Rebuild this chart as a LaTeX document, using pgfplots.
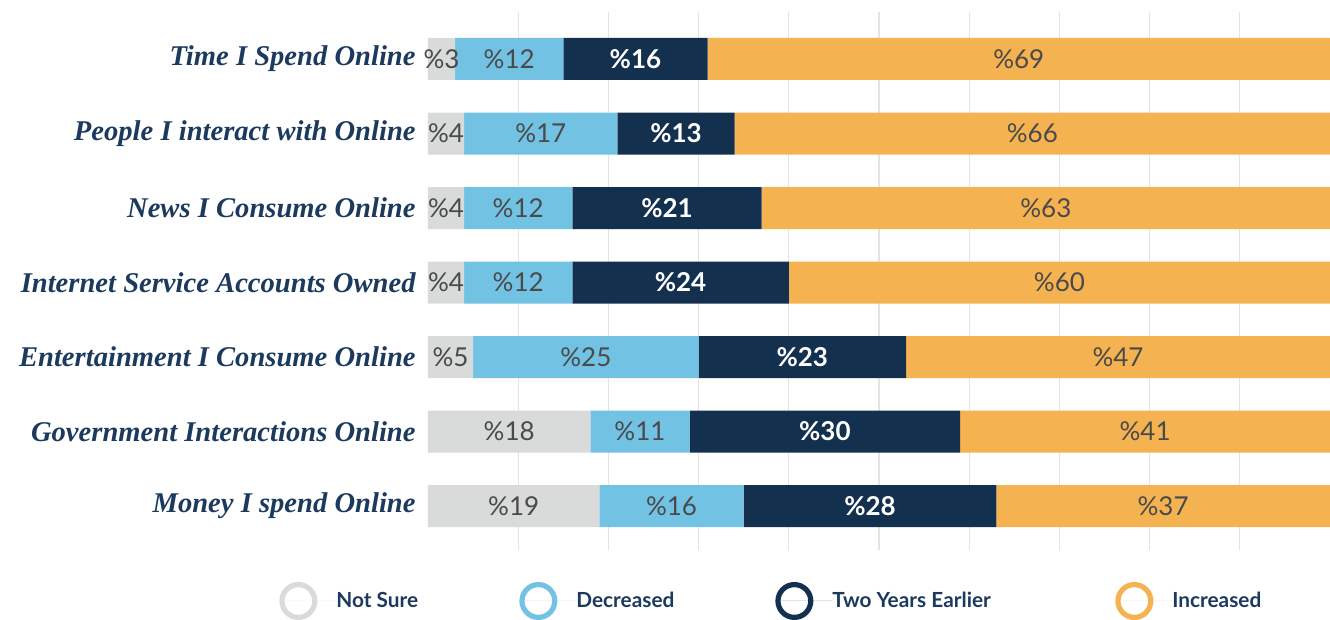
\documentclass[border=0pt]{standalone}
\usepackage{fontspec}
\setmainfont{Lato}
\newfontfamily\catfont{Liberation Serif}
\usepackage{pgfplots}
\usepackage{pgfplotstable}
\pgfplotsset{compat=1.18}
\definecolor{cGray}{HTML}{D9DADA}
\definecolor{cBlue}{HTML}{72C2E4}
\definecolor{cNavy}{HTML}{13304F}
\definecolor{cOrange}{HTML}{F4B350}
\definecolor{cText}{HTML}{4A4A4A}
\definecolor{cLabel}{HTML}{1C3A5E}
\definecolor{cGrid}{HTML}{E4E4E4}
\pgfplotstableread{
y ns dec two inc
0 19 16 28 37
1 18 11 30 41
2 5 25 23 47
3 4 12 24 60
4 4 12 21 63
5 4 17 13 66
6 3 12 16 69
}\datatable
\pgfplotsset{
  ring/.style={legend image code/.code={\draw[line width=2.6pt,draw=#1,fill=none] (9.5pt,0pt) circle (8.2pt); \path (0pt,0pt) -- (28.5pt,0pt);}},
  common/.style={at={(214pt,35pt)}, anchor=south west,
    scale only axis, width=451pt, height=269pt,
    xmin=0, xmax=100, ymin=-0.59, ymax=6.631},
}
\begin{document}
\begin{tikzpicture}
\useasboundingbox (0,0) rectangle (665pt,310pt);
\begin{axis}[
  common,
  xbar stacked, bar width=21pt,
  xtick={10,20,...,90}, xticklabels={}, xmajorgrids,
  grid style={cGrid, line width=0.6pt},
  ytick={0,...,6},
  yticklabels={Money I spend Online, Government Interactions Online, Entertainment I Consume Online, Internet Service Accounts Owned, News I Consume Online, People I interact with Online, Time I Spend Online},
  major tick length=0pt,
  axis line style={draw=none},
  yticklabel style={font=\catfont\bfseries\itshape\fontsize{14.3}{17}\selectfont, text=cLabel, inner sep=0pt, anchor=east, xshift=-6pt},
  legend columns=4,
  legend style={draw=none, fill=none, at={(-0.1652,-0.0948)}, anchor=west, inner sep=0pt, nodes={inner sep=0pt}, font=\bfseries\fontsize{10.4}{12}\selectfont, text=cLabel, /tikz/every even column/.style={column sep=0pt}},
]
\addplot[fill=cGray, draw=none, ring=cGray] table[x=ns, y=y] {\datatable};
\addlegendentry{\makebox[91.5pt][l]{Not Sure}}
\addplot[fill=cBlue, draw=none, ring=cBlue] table[x=dec, y=y] {\datatable};
\addlegendentry{\makebox[99.5pt][l]{Decreased}}
\addplot[fill=cNavy, draw=none, ring=cNavy] table[x=two, y=y] {\datatable};
\addlegendentry{\makebox[141.5pt][l]{Two Years Earlier}}
\addplot[fill=cOrange, draw=none, ring=cOrange] table[x=inc, y=y] {\datatable};
\addlegendentry{Increased}
\end{axis}
\begin{axis}[
  common, hide axis,
  nodes near coords={\%\pgfmathprintnumber[assume math mode=true]{\pgfplotspointmeta}},
  every node near coord/.append style={anchor=center, inner sep=0pt, font=\fontsize{13}{15}\selectfont, text=cText},
]
\addplot[only marks, mark=none, point meta=\thisrow{ns}] table[x expr=\thisrow{ns}/2, y=y] {\datatable};
\addplot[only marks, mark=none, point meta=\thisrow{dec}] table[x expr=\thisrow{ns}+\thisrow{dec}/2, y=y] {\datatable};
\addplot[only marks, mark=none, point meta=\thisrow{two}, every node near coord/.append style={text=white, font=\bfseries\fontsize{13}{15}\selectfont}] table[x expr=\thisrow{ns}+\thisrow{dec}+\thisrow{two}/2, y=y] {\datatable};
\addplot[only marks, mark=none, point meta=\thisrow{inc}] table[x expr=\thisrow{ns}+\thisrow{dec}+\thisrow{two}+\thisrow{inc}/2, y=y] {\datatable};
\end{axis}
\end{tikzpicture}
\end{document}
